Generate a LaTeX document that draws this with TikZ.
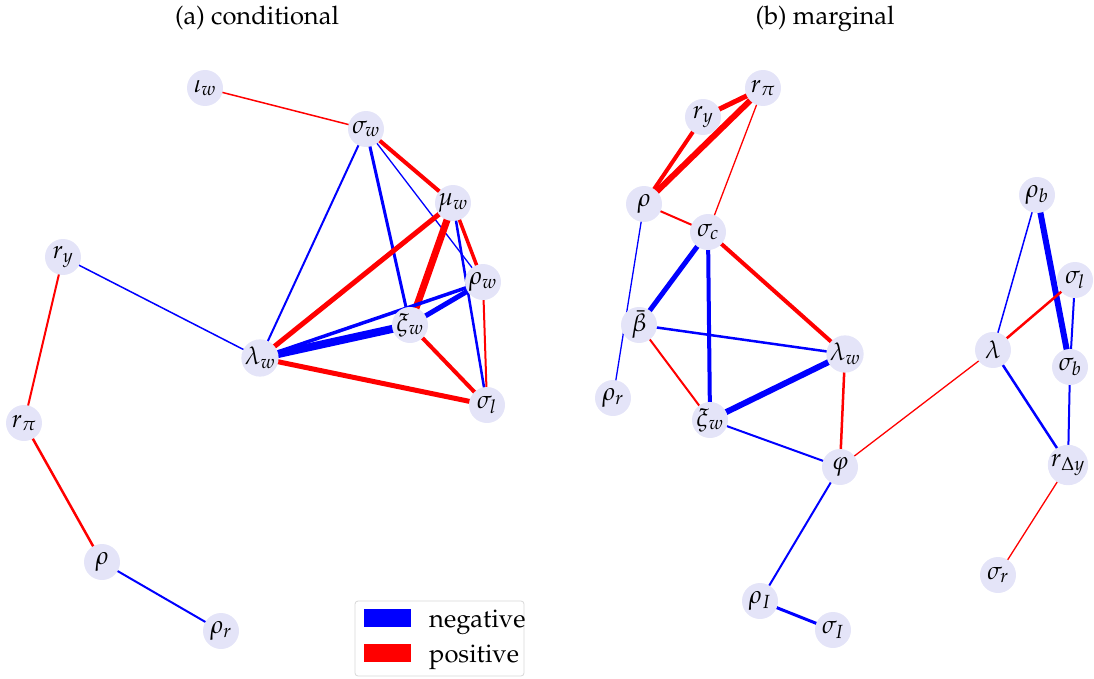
\documentclass[tikz,border=0pt]{standalone}
\usepackage[T1]{fontenc}
\usepackage{mathpazo}
\usetikzlibrary{backgrounds}
\definecolor{nodefill}{RGB}{228,228,248}
\definecolor{negc}{RGB}{0,0,255}
\definecolor{posc}{RGB}{255,0,0}
\definecolor{legframe}{RGB}{215,215,215}
\tikzset{
  vnode/.style={circle,fill=nodefill,minimum size=36pt,inner sep=0pt,font=\fontsize{25}{30}\selectfont},
  negE/.style={draw=negc,line width=#1pt},
  posE/.style={draw=posc,line width=#1pt},
  ttl/.style={anchor=base,font=\fontsize{25.5}{30}\selectfont},
  legtxt/.style={anchor=base west,font=\fontsize{25.5}{30}\selectfont,inner sep=0pt},
}
\begin{document}
\begin{tikzpicture}[x=1pt,y=-1pt]
\useasboundingbox (0,0) rectangle (1094,679);
% titles
\node[ttl] (ta) at (257,25) {(a) conditional};
\node[ttl] (tb) at (825,25) {(b) marginal};
% ---- left panel nodes
\node[vnode] (aiw) at (205,88) {$\iota_w$};
\node[vnode] (asw) at (366,129) {$\sigma_w$};
\node[vnode] (amw) at (453,203) {$\mu_w$};
\node[vnode] (arw) at (483,282) {$\rho_w$};
\node[vnode] (axw) at (410,325) {$\xi_w$};
\node[vnode] (alw) at (260,358) {$\lambda_w$};
\node[vnode] (asl) at (487,405) {$\sigma_l$};
\node[vnode] (ary) at (63,257) {$r_y$};
\node[vnode] (arp) at (24,423) {$r_\pi$};
\node[vnode] (arho) at (102,562) {$\rho$};
\node[vnode] (arr) at (221,631) {$\rho_r$};
% ---- right panel nodes
\node[vnode] (brp) at (763,88) {$r_\pi$};
\node[vnode] (bry) at (703,117) {$r_y$};
\node[vnode] (brho) at (644,204) {$\rho$};
\node[vnode] (bsc) at (708,232) {$\sigma_c$};
\node[vnode] (bbb) at (639,325) {$\bar\beta$};
\node[vnode] (brr) at (613,398) {$\rho_r$};
\node[vnode] (blw) at (845,354) {$\lambda_w$};
\node[vnode] (bxw) at (710,420) {$\xi_w$};
\node[vnode] (bphi) at (840,467) {$\varphi$};
\node[vnode] (brI) at (760,601) {$\rho_I$};
\node[vnode] (bsI) at (833,630) {$\sigma_I$};
\node[vnode] (brb) at (1037,195) {$\rho_b$};
\node[vnode] (bsl) at (1075,280) {$\sigma_l$};
\node[vnode] (blam) at (993,350) {$\lambda$};
\node[vnode] (bsb) at (1070,367) {$\sigma_b$};
\node[vnode] (brdy) at (1068,465) {$r_{\Delta y}$};
\node[vnode] (bsr) at (998,575) {$\sigma_r$};
% ---- edges
\begin{scope}[on background layer]
% left
\draw[posE=1.5] (aiw.center) -- (asw.center);
\draw[posE=4] (asw.center) -- (amw.center);
\draw[negE=2] (asw.center) -- (alw.center);
\draw[negE=3] (asw.center) -- (axw.center);
\draw[negE=1.3] (asw.center) -- (arw.center);
\draw[posE=5] (amw.center) -- (alw.center);
\draw[posE=7] (amw.center) -- (axw.center);
\draw[posE=3.5] (amw.center) -- (arw.center);
\draw[negE=2.5] (amw.center) -- (asl.center);
\draw[negE=5] (arw.center) -- (axw.center);
\draw[negE=3.5] (arw.center) -- (alw.center);
\draw[posE=2] (arw.center) -- (asl.center);
\draw[negE=8] (axw.center) -- (alw.center);
\draw[posE=4] (axw.center) -- (asl.center);
\draw[posE=5] (alw.center) -- (asl.center);
\draw[negE=1.5] (ary.center) -- (alw.center);
\draw[posE=2] (ary.center) -- (arp.center);
\draw[posE=2.5] (arp.center) -- (arho.center);
\draw[negE=2] (arho.center) -- (arr.center);
% right
\draw[posE=5] (brp.center) -- (bry.center);
\draw[posE=6] (brp.center) -- (brho.center);
\draw[posE=4] (bry.center) -- (brho.center);
\draw[posE=1.3] (brp.center) -- (bsc.center);
\draw[posE=2] (brho.center) -- (bsc.center);
\draw[negE=1.3] (brho.center) -- (brr.center);
\draw[negE=5] (bsc.center) -- (bbb.center);
\draw[negE=4] (bsc.center) -- (bxw.center);
\draw[posE=4] (bsc.center) -- (blw.center);
\draw[negE=2.5] (bbb.center) -- (blw.center);
\draw[posE=2] (bbb.center) -- (bxw.center);
\draw[negE=6] (bxw.center) -- (blw.center);
\draw[negE=2] (bxw.center) -- (bphi.center);
\draw[posE=2.5] (blw.center) -- (bphi.center);
\draw[posE=1.3] (bphi.center) -- (blam.center);
\draw[negE=2] (bphi.center) -- (brI.center);
\draw[negE=3] (brI.center) -- (bsI.center);
\draw[negE=1.5] (brb.center) -- (blam.center);
\draw[negE=6] (brb.center) -- (bsb.center);
\draw[posE=2.5] (bsl.center) -- (blam.center);
\draw[negE=2] (bsl.center) -- (bsb.center);
\draw[negE=2.5] (blam.center) -- (brdy.center);
\draw[negE=2] (bsb.center) -- (brdy.center);
\draw[posE=1.3] (brdy.center) -- (bsr.center);
\end{scope}
% ---- legend
\node[draw=legframe,line width=0.8pt,rounded corners=3pt,minimum width=169pt,minimum height=75pt,inner sep=0pt] (leg) at (439.5,638.5) {};
\node[fill=negc,minimum width=47pt,minimum height=18pt,inner sep=0pt] (lneg) at (387.5,618) {};
\node[fill=posc,minimum width=47pt,minimum height=18pt,inner sep=0pt] (lpos) at (387.5,652.5) {};
\node[legtxt] (tneg) at (429,627) {negative};
\node[legtxt] (tpos) at (429,662) {positive};
\end{tikzpicture}
\end{document}
